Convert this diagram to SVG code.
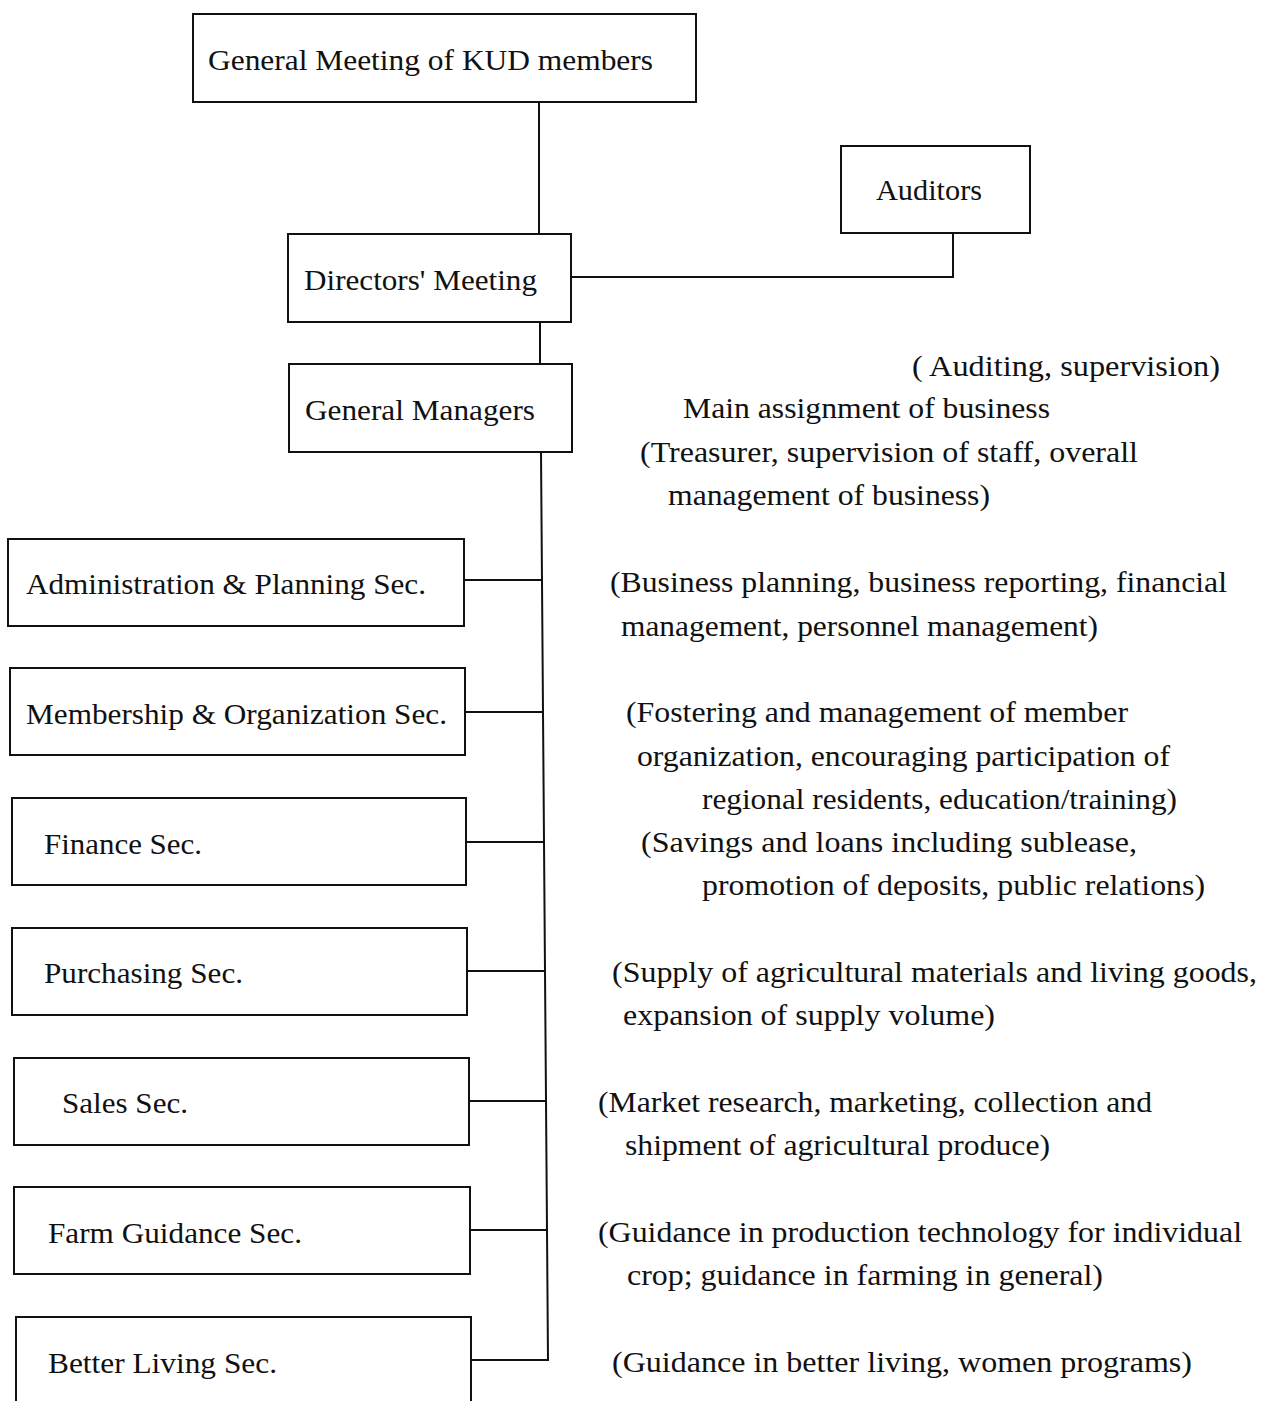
<svg xmlns="http://www.w3.org/2000/svg" width="1265" height="1401" viewBox="0 0 1265 1401">
<style>
.box{fill:#fff;stroke:#111;stroke-width:2}
.lbl{font-family:"Liberation Serif","Times New Roman",serif;font-size:29px;fill:#111}
.note{font-family:"Liberation Serif","Times New Roman",serif;font-size:29px;fill:#111}
.con{stroke:#111;stroke-width:2;fill:none}
</style>
<rect width="1265" height="1401" fill="#fff"/>
<g id="connectors">
<line class="con" x1="539" y1="102" x2="539" y2="234"/>
<polyline class="con" points="571,277 953,277 953,233"/>
<line class="con" x1="540" y1="322" x2="540" y2="364"/>
<polyline class="con" points="541,452 548,1360 471,1360"/>
<line class="con" x1="464" y1="580" x2="542" y2="580"/>
<line class="con" x1="465" y1="712" x2="543" y2="712"/>
<line class="con" x1="466" y1="842" x2="544" y2="842"/>
<line class="con" x1="467" y1="971" x2="545" y2="971"/>
<line class="con" x1="469" y1="1101" x2="546" y2="1101"/>
<line class="con" x1="470" y1="1230" x2="547" y2="1230"/>
</g>
<g id="general-meeting"><rect class="box" x="193" y="14" width="503" height="88"/><text class="lbl" x="208" y="70" textLength="445" lengthAdjust="spacingAndGlyphs">General Meeting of KUD members</text></g>
<g id="auditors"><rect class="box" x="841" y="146" width="189" height="87"/><text class="lbl" x="876" y="200" textLength="106" lengthAdjust="spacingAndGlyphs">Auditors</text></g>
<g id="directors"><rect class="box" x="288" y="234" width="283" height="88"/><text class="lbl" x="304" y="290" textLength="233" lengthAdjust="spacingAndGlyphs">Directors' Meeting</text></g>
<g id="general-managers"><rect class="box" x="289" y="364" width="283" height="88"/><text class="lbl" x="305" y="420" textLength="230" lengthAdjust="spacingAndGlyphs">General Managers</text></g>
<g id="admin"><rect class="box" x="8" y="539" width="456" height="87"/><text class="lbl" x="26" y="594" textLength="400" lengthAdjust="spacingAndGlyphs">Administration &amp; Planning Sec.</text></g>
<g id="membership"><rect class="box" x="10" y="668" width="455" height="87"/><text class="lbl" x="26" y="724" textLength="421" lengthAdjust="spacingAndGlyphs">Membership &amp; Organization Sec.</text></g>
<g id="finance"><rect class="box" x="12" y="798" width="454" height="87"/><text class="lbl" x="44" y="854" textLength="158" lengthAdjust="spacingAndGlyphs">Finance Sec.</text></g>
<g id="purchasing"><rect class="box" x="12" y="928" width="455" height="87"/><text class="lbl" x="44" y="983" textLength="199" lengthAdjust="spacingAndGlyphs">Purchasing Sec.</text></g>
<g id="sales"><rect class="box" x="14" y="1058" width="455" height="87"/><text class="lbl" x="62" y="1113" textLength="126" lengthAdjust="spacingAndGlyphs">Sales Sec.</text></g>
<g id="farm-guidance"><rect class="box" x="14" y="1187" width="456" height="87"/><text class="lbl" x="48" y="1243" textLength="254" lengthAdjust="spacingAndGlyphs">Farm Guidance Sec.</text></g>
<g id="better-living"><path class="con" d="M16,1405 V1317 H471 V1405"/><text class="lbl" x="48" y="1373" textLength="229" lengthAdjust="spacingAndGlyphs">Better Living Sec.</text></g>
<g id="notes">
<text class="note" x="912" y="376" textLength="308" lengthAdjust="spacingAndGlyphs">(  Auditing, supervision)</text>
<text class="note" x="683" y="418" textLength="367" lengthAdjust="spacingAndGlyphs">Main assignment of business</text>
<text class="note" x="640" y="462" textLength="498" lengthAdjust="spacingAndGlyphs">(Treasurer, supervision of staff, overall</text>
<text class="note" x="668" y="505" textLength="322" lengthAdjust="spacingAndGlyphs">management of business)</text>
<text class="note" x="610" y="592" textLength="617" lengthAdjust="spacingAndGlyphs">(Business planning, business reporting, financial</text>
<text class="note" x="621" y="636" textLength="477" lengthAdjust="spacingAndGlyphs">management, personnel management)</text>
<text class="note" x="626" y="722" textLength="502" lengthAdjust="spacingAndGlyphs">(Fostering and management of member</text>
<text class="note" x="637" y="766" textLength="533" lengthAdjust="spacingAndGlyphs">organization, encouraging participation of</text>
<text class="note" x="702" y="809" textLength="475" lengthAdjust="spacingAndGlyphs">regional residents, education/training)</text>
<text class="note" x="641" y="852" textLength="496" lengthAdjust="spacingAndGlyphs">(Savings and loans including sublease,</text>
<text class="note" x="702" y="895" textLength="503" lengthAdjust="spacingAndGlyphs">promotion of deposits, public relations)</text>
<text class="note" x="612" y="982" textLength="645" lengthAdjust="spacingAndGlyphs">(Supply of agricultural materials and living goods,</text>
<text class="note" x="623" y="1025" textLength="372" lengthAdjust="spacingAndGlyphs">expansion of supply volume)</text>
<text class="note" x="598" y="1112" textLength="554" lengthAdjust="spacingAndGlyphs">(Market research, marketing, collection and</text>
<text class="note" x="625" y="1155" textLength="425" lengthAdjust="spacingAndGlyphs">shipment of agricultural produce)</text>
<text class="note" x="598" y="1242" textLength="644" lengthAdjust="spacingAndGlyphs">(Guidance in production technology for individual</text>
<text class="note" x="627" y="1285" textLength="476" lengthAdjust="spacingAndGlyphs">crop; guidance in farming in general)</text>
<text class="note" x="612" y="1372" textLength="580" lengthAdjust="spacingAndGlyphs">(Guidance in better living, women programs)</text>
</g>
</svg>
